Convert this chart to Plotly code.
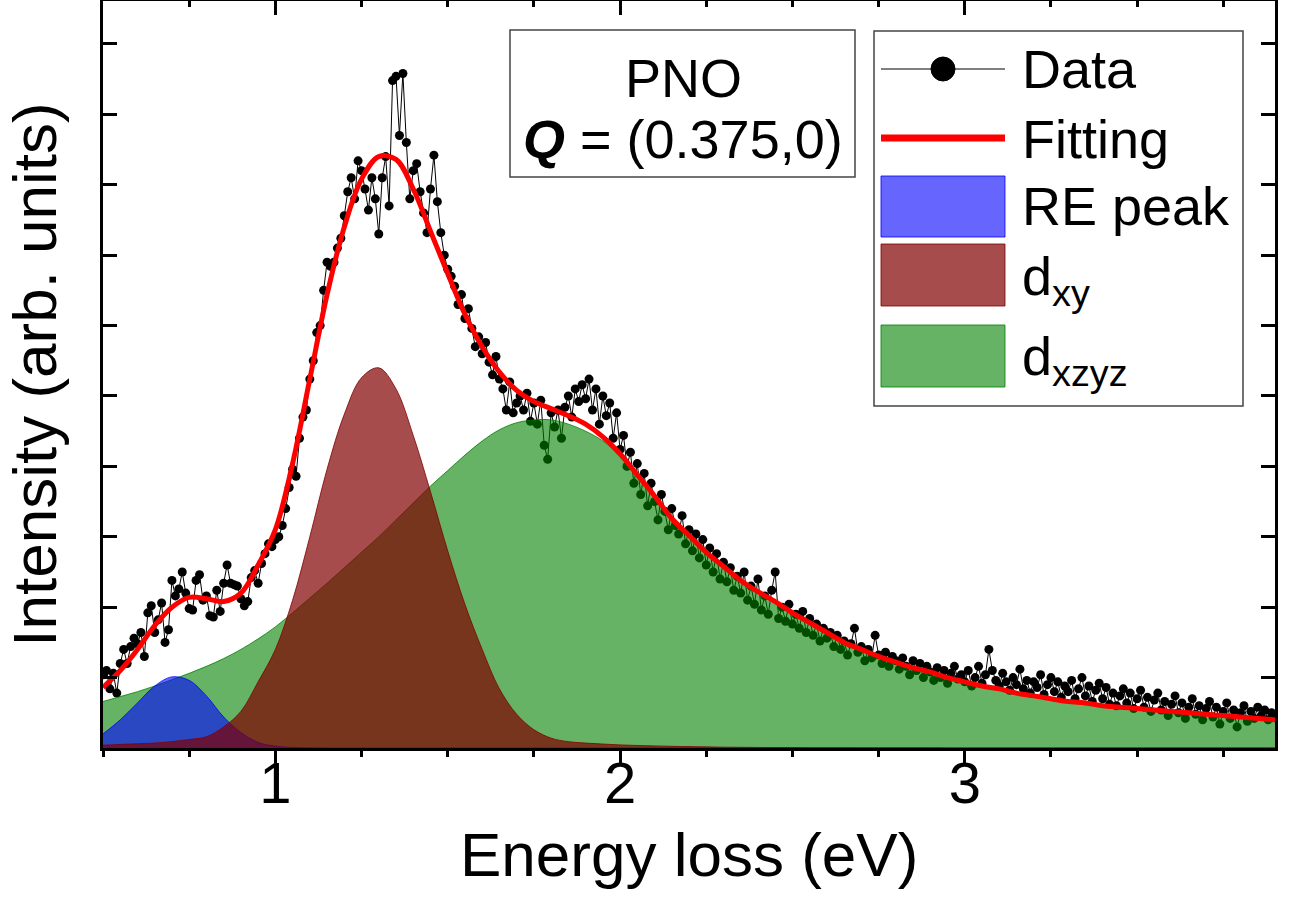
import numpy as np
import plotly.graph_objects as go

# ---------------- data ----------------
data_x = np.round(np.arange(0.50, 3.9001, 0.01), 2)
data_y = [
    0.52, 0.55, 0.42, 0.53, 0.39, 0.60, 0.70, 0.60, 0.72, 0.78,
    0.74, 0.82, 0.65, 0.96, 1.01, 0.82, 0.91, 1.03, 0.75, 0.84,
    1.19, 1.08, 1.13, 1.25, 1.10, 0.99, 0.98, 1.19, 1.23, 1.05,
    1.08, 0.94, 0.93, 1.12, 0.97, 1.17, 1.30, 1.17, 1.16, 1.15,
    1.06, 1.01, 1.04, 1.21, 1.26, 1.17, 1.31, 1.38, 1.45, 1.43,
    1.48, 1.50, 1.58, 1.70, 1.85, 1.98, 1.93, 2.20, 2.35, 2.40,
    2.62, 2.75, 2.95, 3.00, 3.25, 3.45, 3.42, 3.45, 3.55, 3.62,
    3.78, 3.95, 4.05, 3.90, 4.17, 4.10, 3.97, 3.82, 4.05, 3.90,
    3.65, 4.05, 4.20, 3.85, 4.74, 4.77, 4.35, 4.79, 4.30, 3.90,
    4.10, 4.15, 3.95, 3.80, 3.66, 3.97, 4.21, 3.88, 3.66, 3.50,
    3.40, 3.35, 3.28, 3.15, 3.22, 3.05, 3.12, 2.98, 2.85, 2.92,
    2.80, 2.88, 2.74, 2.65, 2.78, 2.62, 2.55, 2.40, 2.60, 2.38,
    2.45, 2.50, 2.40, 2.52, 2.32, 2.45, 2.30, 2.47, 2.15, 2.05,
    2.38, 2.28, 2.40, 2.20, 2.42, 2.50, 2.35, 2.55, 2.46, 2.58,
    2.48, 2.62, 2.40, 2.55, 2.30, 2.50, 2.36, 2.45, 2.20, 2.38,
    2.12, 2.22, 2.00, 2.10, 1.88, 2.02, 1.80, 1.95, 1.72, 1.88,
    1.75, 1.62, 1.80, 1.68, 1.55, 1.70, 1.58, 1.52, 1.65, 1.45,
    1.55, 1.40, 1.52, 1.35, 1.48, 1.30, 1.42, 1.25, 1.38, 1.20,
    1.32, 1.18, 1.28, 1.12, 1.22, 1.10, 1.25, 1.05, 1.15, 1.02,
    1.20, 0.98, 1.08, 0.95, 1.12, 1.25, 0.92, 1.00, 0.90, 1.02,
    0.88, 0.95, 0.85, 0.97, 0.82, 0.92, 0.80, 0.88, 0.76, 0.85,
    0.78, 0.82, 0.72, 0.80, 0.70, 0.76, 0.66, 0.74, 0.85, 0.68,
    0.72, 0.62, 0.70, 0.64, 0.80, 0.66, 0.60, 0.68, 0.58, 0.65,
    0.62, 0.56, 0.64, 0.58, 0.52, 0.62, 0.55, 0.60, 0.50, 0.58,
    0.54, 0.48, 0.57, 0.50, 0.55, 0.46, 0.53, 0.58, 0.49, 0.52,
    0.47, 0.55, 0.44, 0.50, 0.58, 0.46, 0.52, 0.70, 0.55, 0.48,
    0.44, 0.53, 0.47, 0.41, 0.50, 0.45, 0.56, 0.42, 0.48, 0.39,
    0.47, 0.43, 0.52, 0.38, 0.45, 0.50, 0.40, 0.47, 0.36, 0.44,
    0.40, 0.48, 0.35, 0.42, 0.50, 0.37, 0.44, 0.33, 0.41, 0.46,
    0.35, 0.43, 0.31, 0.39, 0.30, 0.37, 0.42, 0.32, 0.39, 0.28,
    0.35, 0.41, 0.29, 0.36, 0.26, 0.34, 0.39, 0.27, 0.33, 0.23,
    0.31, 0.37, 0.25, 0.32, 0.21, 0.29, 0.35, 0.24, 0.30, 0.20,
    0.28, 0.33, 0.22, 0.29, 0.17, 0.26, 0.32, 0.21, 0.27, 0.15,
    0.25, 0.30, 0.19, 0.26, 0.21, 0.29, 0.23, 0.27, 0.20, 0.25,
    0.22,
]

comp_x = np.round(np.arange(0.50, 3.9001, 0.05), 2)
re_peak = [
    0.10, 0.20, 0.32, 0.44, 0.505, 0.48, 0.37, 0.22, 0.11, 0.04,
    0.013, 0.004, 0.001, 0, 0, 0, 0, 0, 0, 0,
    0, 0, 0, 0, 0, 0, 0, 0, 0, 0,
    0, 0, 0, 0, 0, 0, 0, 0, 0, 0,
    0, 0, 0, 0, 0, 0, 0, 0, 0, 0,
    0, 0, 0, 0, 0, 0, 0, 0, 0, 0,
    0, 0, 0, 0, 0, 0, 0, 0, 0,
]
d_xy = [
    0.02, 0.025, 0.03, 0.035, 0.045, 0.06, 0.08, 0.15, 0.26, 0.47,
    0.70, 1.05, 1.50, 1.98, 2.37, 2.63, 2.70, 2.55, 2.22, 1.82,
    1.40, 1.02, 0.70, 0.42, 0.24, 0.13, 0.07, 0.045, 0.035, 0.028,
    0.022, 0.018, 0.015, 0.012, 0.010, 0.008, 0.006, 0.005, 0.004, 0.003,
    0.003, 0.002, 0.002, 0.002, 0.001, 0.001, 0.001, 0.001, 0.001, 0,
    0, 0, 0, 0, 0, 0, 0, 0, 0, 0,
    0, 0, 0, 0, 0, 0, 0, 0, 0,
]
d_xzyz = [
    0.33, 0.365, 0.40, 0.44, 0.485, 0.53, 0.58, 0.635, 0.70, 0.775,
    0.86, 0.96, 1.065, 1.17, 1.28, 1.39, 1.50, 1.62, 1.74, 1.86,
    1.97, 2.08, 2.18, 2.26, 2.31, 2.33, 2.33, 2.30, 2.25, 2.18,
    2.07, 1.92, 1.78, 1.62, 1.50, 1.38, 1.28, 1.18, 1.11, 1.03,
    0.96, 0.89, 0.81, 0.74, 0.69, 0.65, 0.60, 0.57, 0.54, 0.50,
    0.47, 0.44, 0.41, 0.39, 0.37, 0.35, 0.33, 0.31, 0.30, 0.29,
    0.28, 0.27, 0.26, 0.25, 0.24, 0.23, 0.22, 0.21, 0.20,
]
fitting = [
    0.43, 0.55, 0.70, 0.87, 1.00, 1.07, 1.06, 1.04, 1.10, 1.30,
    1.55, 2.02, 2.62, 3.22, 3.70, 4.04, 4.20, 4.18, 3.97, 3.67,
    3.37, 3.08, 2.85, 2.67, 2.54, 2.46, 2.41, 2.36, 2.30, 2.21,
    2.09, 1.94, 1.79, 1.63, 1.51, 1.39, 1.29, 1.19, 1.11, 1.04,
    0.96, 0.89, 0.82, 0.75, 0.70, 0.65, 0.61, 0.57, 0.54, 0.50,
    0.47, 0.44, 0.42, 0.39, 0.37, 0.35, 0.33, 0.32, 0.30, 0.29,
    0.28, 0.27, 0.26, 0.25, 0.24, 0.23, 0.22, 0.21, 0.20,
]

x_tick_vals = [1, 2, 3]
x_tick_text = ["1", "2", "3"]

# ---------------- style ----------------
FONT = "Liberation Sans, Arial, sans-serif"
C_BLUE = "rgba(0,0,255,0.6)"
C_BROWN = "rgba(128,0,0,0.7)"
C_GREEN = "rgba(0,128,0,0.6)"

W, H = 1294, 899
PL, PR, PT, PB = 103, 1275, 1, 748


def px(x):
    return (x - PL) / (PR - PL)


def py(y):
    return (PB - y) / (PB - PT)


fig = go.Figure()

fig.add_trace(go.Scatter(
    x=data_x, y=data_y, mode="lines+markers", name="Data",
    line=dict(color="black", width=1),
    marker=dict(color="black", size=9), showlegend=False))

fig.add_trace(go.Scatter(
    x=comp_x, y=d_xzyz, mode="lines", name="dxzyz", fill="tozeroy",
    fillcolor=C_GREEN, line=dict(color="rgba(0,128,0,0.8)", width=1, shape="spline"),
    showlegend=False))
fig.add_trace(go.Scatter(
    x=comp_x, y=re_peak, mode="lines", name="RE peak", fill="tozeroy",
    fillcolor=C_BLUE, line=dict(color="rgba(0,0,255,0.8)", width=1, shape="spline"),
    showlegend=False))
fig.add_trace(go.Scatter(
    x=comp_x, y=d_xy, mode="lines", name="dxy", fill="tozeroy",
    fillcolor=C_BROWN, line=dict(color="rgba(128,0,0,0.8)", width=1, shape="spline"),
    showlegend=False))
fig.add_trace(go.Scatter(
    x=comp_x, y=fitting, mode="lines", name="Fitting",
    line=dict(color="#ff0000", width=5, shape="spline"), showlegend=False))

# invisible trace on top axis
fig.add_trace(go.Scatter(x=[0.5, 3.9], y=[None, None], xaxis="x2",
                         mode="lines", showlegend=False, hoverinfo="skip"))

axis_common = dict(showgrid=False, zeroline=False, linecolor="black",
                   linewidth=3, tickcolor="black", tickwidth=3)

fig.update_layout(
    width=W, height=H,
    margin=dict(l=PL, r=W - PR, t=PT, b=H - PB),
    paper_bgcolor="white", plot_bgcolor="white",
    template="none",
    font=dict(family=FONT, color="black", size=54),
    xaxis=dict(range=[0.5, 3.9], tickvals=x_tick_vals, ticktext=x_tick_text,
               ticks="outside", ticklen=14, showline=True, mirror=True,
               ticklabelstandoff=-32,
               tickfont=dict(size=58, family=FONT),
               minor=dict(dtick=0.25, tick0=0.5, ticks="outside", ticklen=6,
                          tickwidth=3, tickcolor="black"),
               automargin=False, **axis_common),
    xaxis2=dict(range=[0.5, 3.9], overlaying="x", side="top", anchor="y",
                tickvals=x_tick_vals, ticks="inside", ticklen=14,
                showticklabels=False, showline=False,
                minor=dict(dtick=0.25, tick0=0.5, ticks="inside", ticklen=6,
                           tickwidth=3, tickcolor="black"),
                automargin=False, **axis_common),
    yaxis=dict(range=[0, 5.305], dtick=1, tick0=0, ticks="inside", ticklen=14,
               showticklabels=False, showline=True, mirror="allticks",
               minor=dict(dtick=0.5, tick0=0, ticks="inside", ticklen=7,
                          tickwidth=3, tickcolor="black"),
               title=dict(text="Intensity (arb. units)", font=dict(size=62, family=FONT),
                          standoff=28),
               automargin=False, **axis_common),
    showlegend=False,
)

shapes = []
annotations = []

# x axis title
annotations.append(dict(xref="paper", yref="paper", x=px(689), y=py(818),
                        text="Energy loss (eV)", showarrow=False,
                        xanchor="center", yanchor="top",
                        font=dict(size=62, family=FONT, color="black")))

# text box PNO
shapes.append(dict(type="rect", xref="paper", yref="paper",
                   x0=px(510), x1=px(855), y0=py(177), y1=py(30),
                   line=dict(color="#444444", width=1.5), fillcolor="white", layer="above"))
annotations.append(dict(xref="paper", yref="paper", x=px(683), y=py(78),
                        text="PNO", showarrow=False, xanchor="center", yanchor="middle",
                        font=dict(size=54, family=FONT, color="black")))
annotations.append(dict(xref="paper", yref="paper", x=px(683), y=py(139),
                        text="<b><i>Q</i></b> = (0.375,0)", showarrow=False,
                        xanchor="center", yanchor="middle",
                        font=dict(size=54, family=FONT, color="black")))

# legend box
shapes.append(dict(type="rect", xref="paper", yref="paper",
                   x0=px(874), x1=px(1243), y0=py(406), y1=py(31),
                   line=dict(color="#444444", width=1.5), fillcolor="white", layer="above"))
# Data sample
shapes.append(dict(type="line", xref="paper", yref="paper",
                   x0=px(881), x1=px(1005), y0=py(69), y1=py(69),
                   line=dict(color="black", width=1), layer="above"))
shapes.append(dict(type="circle", xref="paper", yref="paper",
                   x0=px(931), x1=px(955), y0=py(81), y1=py(57),
                   line=dict(color="black", width=1), fillcolor="black", layer="above"))
# Fitting sample
shapes.append(dict(type="line", xref="paper", yref="paper",
                   x0=px(881), x1=px(1005), y0=py(138), y1=py(138),
                   line=dict(color="#ff0000", width=7), layer="above"))
# swatches
for (top, bot, fc, lc) in [(176, 237, C_BLUE, "rgba(0,0,255,0.8)"),
                           (244, 306, C_BROWN, "rgba(128,0,0,0.8)"),
                           (325, 387, C_GREEN, "rgba(0,128,0,0.8)")]:
    shapes.append(dict(type="rect", xref="paper", yref="paper",
                       x0=px(881), x1=px(1005), y0=py(bot), y1=py(top),
                       line=dict(color=lc, width=1), fillcolor=fc, layer="above"))

leg_items = [("Data", 69), ("Fitting", 139), ("RE peak", 206),
             ("d<sub>xy</sub>", 280), ("d<sub>xzyz</sub>", 360)]
for txt, yc in leg_items:
    annotations.append(dict(xref="paper", yref="paper", x=px(1020), y=py(yc),
                            text=txt, showarrow=False, xanchor="left", yanchor="middle",
                            font=dict(size=54, family=FONT, color="black")))

fig.update_layout(shapes=shapes, annotations=annotations)

fig.write_html("out.html", config={"displayModeBar": False},
               post_script="document.body.style.margin='0';")
